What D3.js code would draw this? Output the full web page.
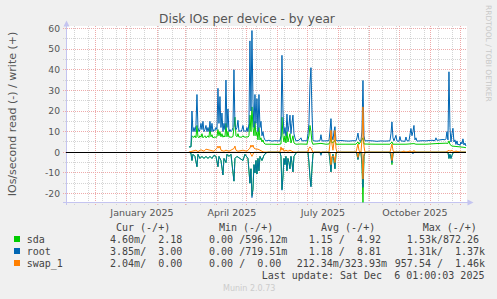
<!DOCTYPE html>
<html><head><meta charset="utf-8">
<script src="https://cdn.jsdelivr.net/npm/d3@7"></script>
<style>
body{margin:0;background:#f0f0f0;}
svg{display:block;}
text{font-family:"DejaVu Sans",sans-serif;}
.mono{font-family:"DejaVu Sans Mono",monospace;white-space:pre;}
</style></head><body>
<svg id="c" width="497" height="299"></svg>
<script>
// ---- data (day-of-year 2025, daily averages IOs/s) ----
const seriesNames = ["sda","root","swap_1"];
const seriesColors = ["#00cc00","#0066b3","#ff8000"];
const yTicks = [-20,-10,0,10,20,30,40,50,60];
const xLabels = [["January 2025",2025,0],["April 2025",2025,3],["July 2025",2025,6],["October 2025",2025,9]];

const rootWrite = [[63,2.6],[65,2.6],[66,20],[67,10],[68,12],[69,10],[70,13],[71,28],[72,12],[73,10],[74,11],[75,14],[76,11],[77,15],[78,10],[79,11],[80,13],[81,10],[82,12],[83,10],[84,15],[85,10],[86,14],[87,10],[88,11],[89,10.5],[90,12],[91,11],[92,31],[93,14],[94,27],[95,12],[96,19],[97,10],[98,14],[99,11],[100,35],[101,12],[102,21],[103,10],[104,11],[105,10],[106,10.5],[107,12],[108,40],[109,13],[110,11],[111,12],[112,15.5],[113,10],[114,10.5],[115,10],[116,11],[117,13],[118,10],[119,10.5],[120,10],[121,12],[122,10],[123,14],[124,54],[125,20],[126,59],[127,25],[128,12],[129,28],[130,14],[131,26],[132,10],[133,28],[134,12],[135,15],[136,8],[137,10],[138,7],[139,6],[140,5.5],[143,5.8],[146,5.4],[149,5.6],[152,5.5],[154,5.5],[155,8],[156,47],[157,20],[158,9],[159,12],[160,8],[161,18.5],[162,10],[163,13],[164,18],[165,9],[166,14],[167,18],[168,9],[169,7],[170,5.5],[173,5.8],[175,7],[176,5.5],[179,5.6],[181,5.5],[182,9],[183,14],[184,33],[185,41],[186,20],[187,6],[188,5.5],[191,5.4],[194,5.6],[195,8.5],[196,5.5],[199,5.5],[203,5.6],[204,10],[205,16.3],[206,8],[207,6],[208,10],[209,12.4],[210,6],[211,5.5],[215,5.7],[219,5.5],[223,5.4],[227,5.6],[230,5.5],[231,7],[232,9.3],[233,6],[234,5.5],[235,5.5],[236,10],[237,34.8],[238,8],[239,5.5],[243,5.6],[247,5.5],[251,5.3],[255,5.5],[259,5.4],[263,5.5],[264,5.6],[265,9],[266,14.7],[267,7],[268,5.5],[270,8.2],[271,5.5],[273,5.3],[274,7.6],[275,5.5],[277,5.4],[279,5.3],[280,7.4],[281,5.6],[283,5.5],[285,11.5],[286,8],[287,10],[288,13],[289,6],[290,7],[291,5.4],[294,5.5],[297,5.6],[300,5.5],[303,5.7],[306,5.8],[309,5.6],[310,7],[311,5.8],[314,6],[317,6.2],[319,6],[320,6.5],[321,10],[322,6],[323,39],[324,12],[325,5],[326,9],[327,11.6],[328,5],[329,6],[330,3.8],[331,5.5],[332,3.5],[333,4],[334,3.3],[335,5],[336,4],[337,6.5],[338,3.5],[339,4.5],[340,3]];

const sdaWrite = [[63,2.6],[65,2.6],[66,8],[67,7.5],[68,7.2],[69,8],[70,7],[71,13],[72,7.5],[73,7],[74,8],[75,7.3],[76,9],[77,7],[78,7.5],[79,8],[80,7],[81,7.4],[82,8],[83,7.2],[84,12],[85,7.5],[86,8.5],[87,7],[88,7.3],[89,7.4],[90,7.2],[91,7.5],[92,11],[93,8],[94,10],[95,7.5],[96,9],[97,7.3],[98,8],[99,7.4],[100,14],[101,7.5],[102,10],[103,7.3],[104,7.5],[105,7.2],[106,7.4],[107,7.6],[108,12],[109,17],[110,8],[111,7.5],[112,9],[113,7.3],[114,7.5],[115,7.2],[116,7.4],[117,8],[118,7.3],[119,7.5],[120,7.2],[121,7.6],[122,7.3],[123,8],[124,18],[125,10],[126,22],[127,12],[128,8],[129,15],[130,8],[131,10],[132,6],[133,12],[134,6],[135,7],[136,5],[137,6],[138,4.5],[139,4],[140,3.9],[146,3.9],[152,3.8],[155,4],[156,17],[157,8],[158,5],[159,8],[160,4.5],[161,10],[162,5],[163,7],[164,9],[165,4.5],[166,6],[167,8],[168,4.5],[170,3.9],[175,4],[181,3.9],[182,6],[183,8],[184,13],[185,10],[186,5],[187,3.9],[195,4.3],[200,3.9],[203,4],[204,5],[205,7],[206,4.5],[208,5],[209,6],[210,3.9],[220,3.9],[230,3.9],[232,5],[233,3.9],[236,6],[237,7],[238,4],[250,3.9],[264,3.9],[266,5],[267,3.9],[280,3.9],[288,4.2],[290,3.9],[300,3.9],[310,4.2],[320,4.4],[322,4.3],[323,5.5],[324,3.8],[326,3],[330,2.8],[334,2.6],[338,2.4],[340,2.2]];

const swapWrite = [[63,0],[66,0.5],[70,1],[72,0.3],[75,1.2],[78,0.5],[80,1.5],[84,1],[88,0.5],[91,2],[92,3],[93,2],[94,3],[95,1],[98,0.5],[100,1],[103,0.5],[108,1.8],[109,3],[110,1],[112,0.5],[117,1],[121,0.5],[124,2],[125,3.5],[126,2.5],[127,3.5],[128,2],[130,1.5],[132,1.5],[134,1],[136,0.5],[138,0],[154,0],[155,2.6],[156,1],[157,2],[158,0.5],[160,1],[162,0.5],[164,1],[166,0.5],[168,0],[182,0],[183,2],[184,2.6],[185,2],[186,1],[187,0],[203,0],[204,4],[205,10.6],[206,4],[207,1],[208,5],[209,10.6],[210,2],[211,0],[230,0],[231,2],[232,4],[233,1],[234,0],[235,0],[236,6],[237,22],[238,3],[239,0],[264,0],[265,2],[266,4],[267,1],[268,0],[275,0],[278,0.6],[280,0],[284,0.6],[286,0],[288,0.8],[290,0],[320,0],[323,1],[324,0.5],[326,1],[328,0],[330,0.6],[334,0],[340,0]];

const rootRead = [[63,0],[65,0.5],[66,4],[67,1],[69,2],[71,7],[72,1],[74,3],[76,2],[78,3],[80,2],[82,3],[84,2],[86,3],[88,1.5],[90,2],[92,7],[93,2],[95,4],[97,11],[98,3],[100,5],[101,1],[103,2],[105,1],[108,14],[109,3],[111,2],[114,3],[117,4],[119,1],[122,3],[124,15],[125,8],[126,22],[127,18],[128,6],[129,10],[130,4],[131,10.5],[132,3],[133,9],[134,2],[136,4],[138,1.5],[140,0.3],[142,0],[154,0],[155,2],[156,18.4],[157,12],[158,3],[159,6],[160,2],[161,9],[162,3],[163,5],[164,8],[165,2],[166,5],[167,9.5],[168,2],[170,0.5],[171,0],[182,0],[183,5],[184,12],[185,16.8],[186,8],[187,1],[188,0],[194,0],[195,1.5],[196,0],[203,0],[204,4],[205,9.5],[206,3],[207,1],[208,4],[209,8],[210,1],[211,0],[230,0],[231,1],[232,3.5],[233,1],[234,0],[235,0],[236,5],[237,17],[238,2],[239,0],[264,0],[265,2],[266,5],[267,1],[268,0],[286,0],[287,0.8],[288,0],[322,0],[323,3],[324,1],[325,3],[326,1.5],[327,0.5],[328,0],[340,0]];

const sdaRead = [[63,0],[65,0.5],[66,4],[67,1],[69,2],[71,7],[72,1],[74,3],[76,2],[78,3],[80,2],[82,3],[84,2],[86,3],[88,1.5],[90,2],[92,7],[93,2],[95,4],[97,11],[98,3],[100,5],[101,1],[103,2],[105,1],[108,14],[109,3],[111,2],[114,3],[117,4],[119,1],[122,3],[124,15],[125,8],[126,21],[127,18],[128,6],[129,10],[130,4],[131,10.5],[132,3],[133,9],[134,2],[136,4],[138,1.5],[140,0.3],[142,0],[154,0],[155,2],[156,18],[157,12],[158,3],[159,6],[160,2],[161,9],[162,3],[163,5],[164,8],[165,2],[166,5],[167,9.5],[168,2],[170,0.5],[171,0],[182,0],[183,5],[184,12],[185,16.5],[186,8],[187,1],[188,0],[194,0],[195,1],[196,0],[203,0],[204,4],[205,9.5],[206,3],[207,1],[208,4],[209,8],[210,1],[211,0],[230,0],[231,1],[232,3.5],[233,1],[234,0],[235,0],[236,6],[237,24.3],[238,2],[239,0],[264,0],[265,2],[266,6],[267,1],[268,0],[322,0],[323,3],[324,1],[325,3],[326,1.5],[327,0.5],[328,0],[340,0]];

const swapRead = [[63,0],[124,0],[125,1],[126,2],[127,1],[128,0],[204,0],[205,6],[206,2],[208,2],[209,5],[210,0],[231,0],[232,2.5],[233,0],[236,0],[237,13],[238,1],[239,0],[265,0],[266,4],[267,0],[340,0]];

const legendCur = ["  4.60m/  2.18 ","  3.85m/  3.00 ","  2.04m/  0.00 "];
const legendMin = ["  0.00 /596.12m","  0.00 /719.51m","  0.00 /  0.00 "];
const legendAvg = ["  1.15 /  4.92 ","  1.18 /  8.81 ","212.34m/323.93m"];
const legendMax = ["  1.53k/872.26 ","  1.31k/  1.37k","957.54 /  1.46k"];
const lastUpdate = "Last update: Sat Dec  6 01:00:03 2025";

// ---- drawing ----
const svg = d3.select("#c");
const X0 = 66, X1 = 466;
const start = new Date(2024,10,1,1,0,3), end = new Date(2025,11,6,1,0,3);
const x = d3.scaleTime().domain([start,end]).range([X0,X1]);
const y = d3.scaleLinear().domain([-20,60]).range([193.5,28.5]);
const dayDate = d => new Date(2025,0,d);
const px = v => Math.floor(v)+0.5;

svg.append("rect").attr("width",497).attr("height",299).attr("fill","#f0f0f0");
svg.append("rect").attr("x",67).attr("y",26).attr("width",X1-67+1).attr("height",202-26).attr("fill","#ffffff");

const grid = svg.append("g");
const minorCol = "#d4d4d4", majorCol = "#eeaaaa";
d3.range(-15,60,10).forEach(v=>{
  grid.append("line").attr("x1",63).attr("x2",X1+1).attr("y1",px(y(v))).attr("y2",px(y(v)))
    .attr("stroke",minorCol).attr("stroke-dasharray","1,1");
});
const minorX = d3.timeDay.every(1).range(new Date(2024,10,10), end).filter((d,i)=>i%14===0);
minorX.forEach(d=>{
  grid.append("line").attr("x1",px(x(d))).attr("x2",px(x(d))).attr("y1",26).attr("y2",205)
    .attr("stroke",minorCol).attr("stroke-dasharray","1,1");
});
yTicks.forEach(v=>{
  grid.append("line").attr("x1",63).attr("x2",X1+1).attr("y1",px(y(v))).attr("y2",px(y(v)))
    .attr("stroke",majorCol).attr("stroke-dasharray","1,1");
});
d3.timeMonth.range(start,end).forEach(d=>{
  grid.append("line").attr("x1",px(x(d))).attr("x2",px(x(d))).attr("y1",26).attr("y2",205)
    .attr("stroke",majorCol).attr("stroke-dasharray","1,1");
});

// axes
const axisCol = "#c4c4f0";
svg.append("line").attr("x1",66.5).attr("x2",66.5).attr("y1",24).attr("y2",205).attr("stroke",axisCol);
svg.append("line").attr("x1",63).attr("x2",470).attr("y1",202.5).attr("y2",202.5).attr("stroke",axisCol);
svg.append("path").attr("d","M63.5,26.5 L66.5,20.5 L69.5,26.5 Z").attr("fill",axisCol);
svg.append("path").attr("d","M467.5,199.5 L473.5,202.5 L467.5,205.5 Z").attr("fill",axisCol);

yTicks.forEach(v=>{
  svg.append("text").attr("x",60).attr("y",y(v)+3.3).attr("text-anchor","end")
    .attr("font-size",9.2).attr("fill","#555").text(v);
});
xLabels.forEach(([t,yr,m])=>{
  svg.append("text").attr("x",x(new Date(yr,m,16))).attr("y",216).attr("text-anchor","middle")
    .attr("font-size",9.5).attr("fill","#555").text(t);
});

// series
const line = sign => d3.line().x(d=>x(dayDate(d[0]))).y(d=>y(sign*d[1]));
const plot = svg.append("g").attr("fill","none").attr("stroke-width",1);
plot.append("path").attr("d",line(-1)(sdaRead)).attr("stroke",seriesColors[0]);
plot.append("path").attr("d",line(1)(sdaWrite)).attr("stroke",seriesColors[0]);
plot.append("path").attr("d",line(-1)(rootRead)).attr("stroke",seriesColors[1]).attr("stroke-opacity",0.88);
plot.append("path").attr("d",line(1)(rootWrite)).attr("stroke",seriesColors[1]);
plot.append("path").attr("d",line(-1)(swapRead)).attr("stroke",seriesColors[2]);
plot.append("path").attr("d",line(1)(swapWrite)).attr("stroke",seriesColors[2]);
svg.append("line").attr("x1",X0).attr("x2",X1).attr("y1",px(y(0))).attr("y2",px(y(0))).attr("stroke","#000");

svg.append("text").attr("x",247).attr("y",23).attr("text-anchor","middle").attr("font-size",12.2)
  .attr("fill","#555").text("Disk IOs per device - by year");
svg.append("text").attr("transform","translate(15.5,114) rotate(-90)").attr("text-anchor","middle")
  .attr("font-size",11).attr("fill","#555").text("IOs/second read (-) / write (+)");
svg.append("text").attr("transform","translate(485.5,5) rotate(90)").attr("font-size",7.5)
  .attr("fill","#c8c8c8").text("RRDTOOL / TOBI OETIKER");

// legend
const lg = svg.append("g").attr("class","mono").attr("font-size",10).attr("fill","#444");
const hdr = [["Cur (-/+)",116],["Min (-/+)",219],["Avg (-/+)",321],["Max (-/+)",422.7]];
hdr.forEach(([t,xx])=>lg.append("text").attr("class","mono").attr("x",xx).attr("y",231).attr("xml:space","preserve").text(t));
seriesNames.forEach((n,i)=>{
  const yy = 243 + i*12;
  svg.append("rect").attr("x",14.5).attr("y",yy-6.5).attr("width",5).attr("height",5)
    .attr("fill",seriesColors[i]).attr("stroke",seriesColors[i]);
  lg.append("text").attr("class","mono").attr("x",26.7).attr("y",yy).text(n);
  [[legendCur,98],[legendMin,197],[legendAvg,296.7],[legendMax,394.8]].forEach(([arr,xx])=>{
    lg.append("text").attr("class","mono").attr("x",xx).attr("y",yy).attr("xml:space","preserve").text(arr[i]);
  });
});
lg.append("text").attr("class","mono").attr("x",261.7).attr("y",279).attr("xml:space","preserve").text(lastUpdate);
svg.append("text").attr("x",223).attr("y",291).attr("font-size",8).attr("fill","#cccccc").text("Munin 2.0.73");
</script>
</body></html>
